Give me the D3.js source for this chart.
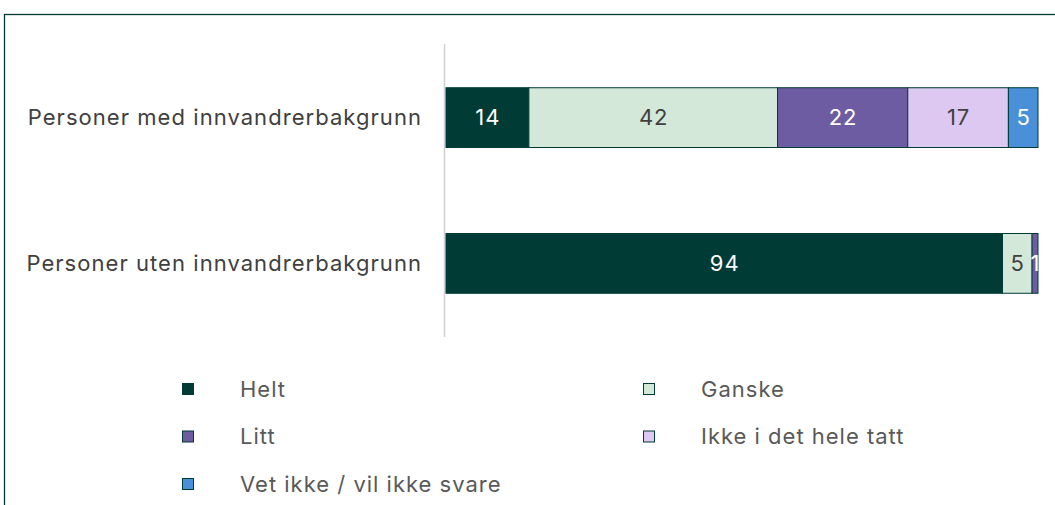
<!DOCTYPE html>
<html>
<head>
<meta charset="utf-8">
<script src="https://cdn.jsdelivr.net/npm/d3@7"></script>
<style>
  body { margin: 0; background: #fff; }
  svg { display: block; font-family: Inter, "Noto Sans", sans-serif; }
</style>
</head>
<body>
<svg id="chart" width="1055" height="505"></svg>
<script>
// data
const groups = ["Personer med innvandrerbakgrunn", "Personer uten innvandrerbakgrunn"];
const answers = ["Helt", "Ganske", "Litt", "Ikke i det hele tatt", "Vet ikke / vil ikke svare"];
const withBg = [14, 42, 22, 17, 5];
const withoutBg = [94, 5, 1, 0, 0];
const colors = ["#003b36", "#d4e8da", "#6e5ca3", "#dcc8f0", "#4a90d9"];
const textColors = ["#ffffff", "#404040", "#ffffff", "#404040", "#ffffff"];

const svg = d3.select("#chart");

// outer frame
svg.append("rect")
    .attr("x", 4.5).attr("y", 14.5)
    .attr("width", 1100).attr("height", 600)
    .attr("fill", "none")
    .attr("stroke", "#003b36")
    .attr("stroke-width", 1.3);

const x = d3.scaleLinear().domain([0, 100]).range([446, 1038]);
const y = d3.scaleBand().domain(groups).range([44, 337]).paddingInner(0.59).paddingOuter(0.3);

// axis line
svg.append("line")
    .attr("x1", 444.5).attr("x2", 444.5)
    .attr("y1", 44).attr("y2", 337)
    .attr("stroke", "#d0d0d0").attr("stroke-width", 1.5);

const rows = [withBg, withoutBg];
const stacked = rows.map(function (vals, r) {
    let acc = 0;
    return vals.map(function (v, i) {
        const seg = { group: groups[r], i: i, v: v, x0: acc, x1: acc + v };
        acc += v;
        return seg;
    }).filter(d => d.v > 0);
});

const bars = svg.append("g");
stacked.forEach(function (segs) {
    bars.selectAll(null)
        .data(segs)
        .enter().append("rect")
        .attr("x", d => x(d.x0))
        .attr("y", d => y(d.group))
        .attr("width", d => x(d.x1) - x(d.x0))
        .attr("height", y.bandwidth())
        .attr("fill", d => colors[d.i])
        .attr("stroke", "#003b36")
        .attr("stroke-width", 1);

    bars.selectAll(null)
        .data(segs)
        .enter().append("text")
        .attr("x", d => (x(d.x0) + x(d.x1)) / 2 + 0.5)
        .attr("y", d => y(d.group) + y.bandwidth() / 2)
        .attr("dy", "0.35em")
        .attr("text-anchor", "middle")
        .attr("font-size", 22)
        .attr("letter-spacing", 1)
        .attr("fill", d => textColors[d.i])
        .text(d => d.v);
});

// category labels
svg.selectAll(".cat")
    .data(groups)
    .enter().append("text")
    .attr("class", "cat")
    .attr("x", 422)
    .attr("y", d => y(d) + y.bandwidth() / 2)
    .attr("dy", "0.35em")
    .attr("text-anchor", "end")
    .attr("font-size", 22)
    .attr("letter-spacing", 1.05)
    .attr("fill", "#404040")
    .text(d => d);

// legend
const legend = svg.append("g").selectAll("g")
    .data(answers)
    .enter().append("g")
    .attr("transform", (d, i) => "translate(" + (i % 2 === 0 ? 182 : 643) + "," + (389 + Math.floor(i / 2) * 47.5) + ")");

legend.append("rect")
    .attr("x", 0.5).attr("y", -5.5)
    .attr("width", 11).attr("height", 11)
    .attr("fill", (d, i) => colors[i])
    .attr("stroke", "#003b36")
    .attr("stroke-width", 1);

legend.append("text")
    .attr("x", 58)
    .attr("dy", "0.35em")
    .attr("font-size", 22)
    .attr("letter-spacing", 1)
    .attr("fill", "#595959")
    .text(d => d);
</script>
</body>
</html>
